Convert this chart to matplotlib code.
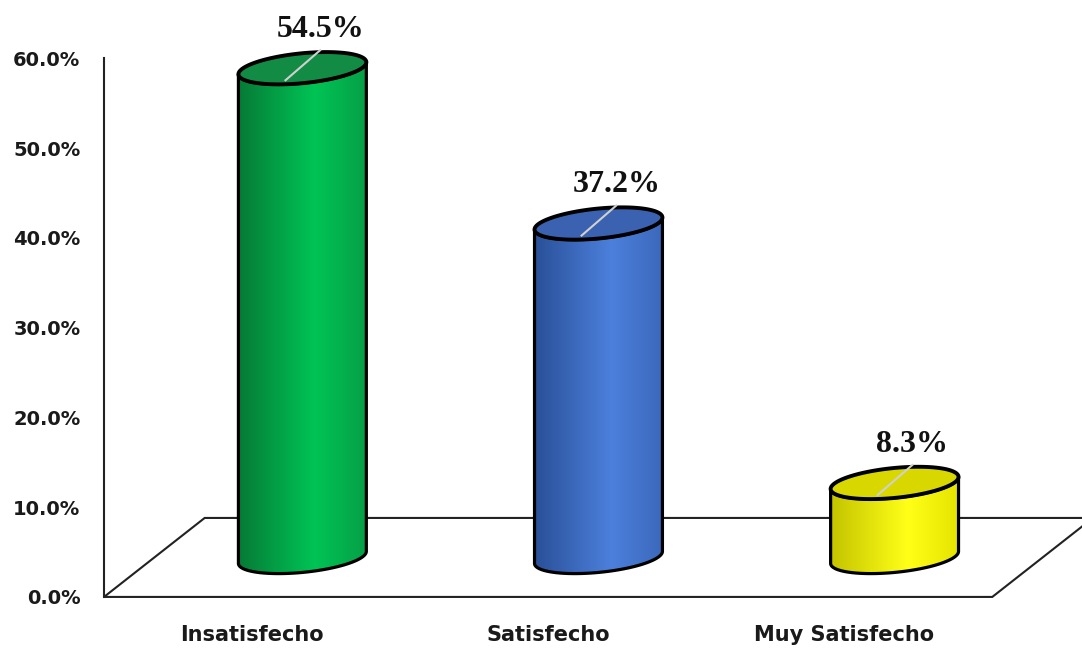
import numpy as np
import matplotlib
matplotlib.use('Agg')
import matplotlib.pyplot as plt
from matplotlib.patches import Polygon
from matplotlib.colors import LinearSegmentedColormap

# data
categories = ['Insatisfecho', 'Satisfecho', 'Muy Satisfecho']
values = [54.5, 37.2, 8.3]
value_labels = ['54.5%', '37.2%', '8.3%']
yticks = [0, 10, 20, 30, 40, 50, 60]

# colours: body gradient (left, highlight, right) and top face
body_colors = [['#067a36', '#00c455', '#06a046'],
               ['#2a5098', '#4c80dc', '#3b68bb'],
               ['#c4c400', '#ffff18', '#e4e400']]
top_colors = ['#128c45', '#3a62b0', '#d8d800']

# pseudo-3d geometry (data units)
depth_x = 0.34    # floor depth along x
depth_y = 8.8     # floor depth along y (percent)
half_w = 0.216    # cylinder half width
ell_h = 1.67      # ellipse half height
shear = 0.67      # ellipse tilt

fig = plt.figure(figsize=(10.82, 6.49), dpi=100)
ax = fig.add_axes([104 / 1082, 0, 1 - 104 / 1082, 1])
ax.set_xlim(-0.5, 2.803)
ax.set_ylim(-5.8, 66.5)
for s in ['top', 'right', 'bottom']:
    ax.spines[s].set_visible(False)
ax.spines['left'].set_bounds(0, 60)
ax.spines['left'].set_linewidth(1.5)
ax.spines['left'].set_color('#222222')
ax.set_xticks([])
ax.set_yticks(yticks)
ax.set_yticklabels([f'{t:.1f}%' for t in yticks], fontsize=14, fontweight='bold', color='#1a1a1a')
ax.tick_params(axis='y', length=0, pad=17)

# floor
n = len(categories)
floor = Polygon([(-0.5, 0), (n - 0.5, 0), (n - 0.5 + depth_x, depth_y), (-0.5 + depth_x, depth_y)],
                closed=True, fill=False, edgecolor='#222222', lw=1.5, zorder=1, clip_on=False)
ax.add_patch(floor)


def ell(cx, cy, t):
    return cx + half_w * np.cos(t), cy + ell_h * np.sin(t) + shear * np.cos(t)


for i, v in enumerate(values):
    cx = i + depth_x / 2
    yb = depth_y / 2
    yt = v + depth_y / 2
    t_front = np.linspace(np.pi, 2 * np.pi, 80)
    bx, by = ell(cx, yb, t_front)
    tx, ty = ell(cx, yt, t_front[::-1])
    pts = np.column_stack([np.concatenate([bx, tx]), np.concatenate([by, ty])])
    body = Polygon(pts, closed=True, facecolor='none', edgecolor='black', lw=2.3, zorder=4)
    ax.add_patch(body)
    cmap = LinearSegmentedColormap.from_list('c%d' % i, list(zip([0, 0.6, 1], body_colors[i])))
    im = ax.imshow(np.linspace(0, 1, 256)[None, :], cmap=cmap, aspect='auto',
                   extent=(cx - half_w, cx + half_w, yb - 3, yt + 3), zorder=3, interpolation='bilinear')
    im.set_clip_path(body)
    t_all = np.linspace(0, 2 * np.pi, 160)
    ex, ey = ell(cx, yt, t_all)
    top = Polygon(np.column_stack([ex, ey]), closed=True, facecolor=top_colors[i],
                  edgecolor='black', lw=2.8, zorder=5)
    ax.add_patch(top)
    # leader line of the data label
    ax.plot([cx - 0.057, cx + 0.06], [yt - 1.34, yt + 2.0], color='#d0d0d0', lw=1.5, zorder=6)
    ax.text(cx + 0.06, yt + 4.3, value_labels[i], ha='center', va='center', fontsize=23,
            fontweight='bold', family='Liberation Serif', color='#111111', zorder=7)
    ax.text(i, -4.2, categories[i], ha='center', va='center', fontsize=15,
            fontweight='bold', color='#1a1a1a')

fig.savefig('out.png', dpi=100)
